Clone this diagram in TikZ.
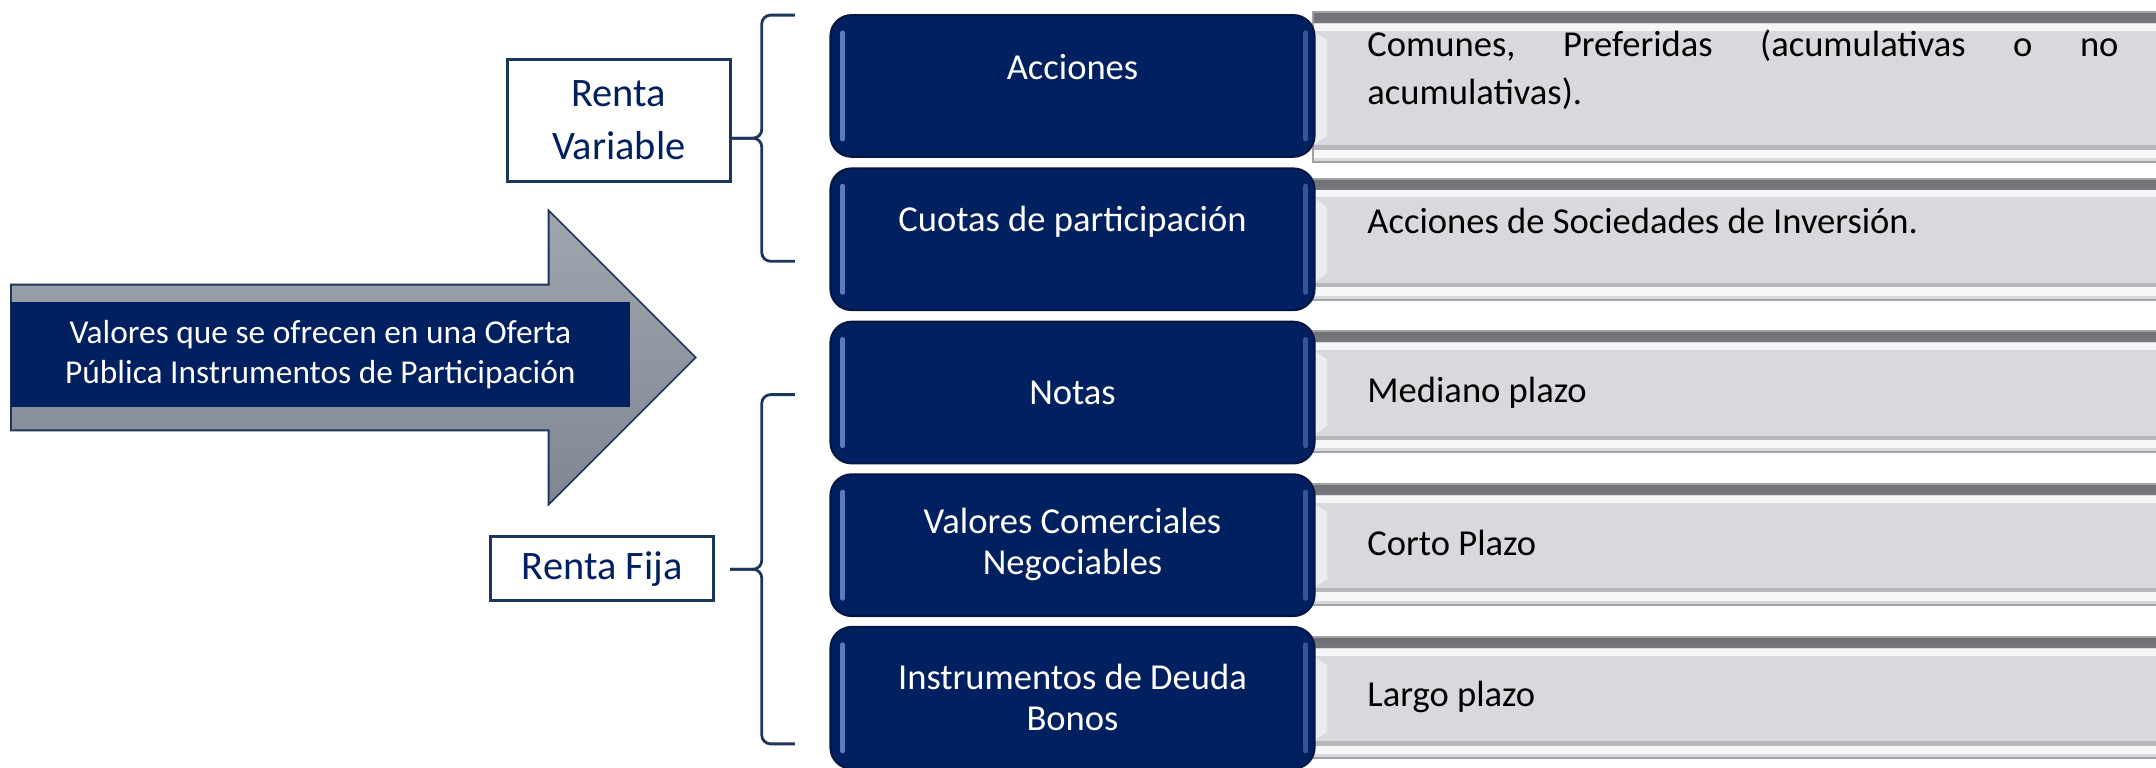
\documentclass[tikz,border=0pt]{standalone}
\usepackage{fontspec}
\setmainfont{Carlito}
\definecolor{azul}{RGB}{0,32,96}
\definecolor{azulosc}{RGB}{6,22,66}
\definecolor{azulbrillo}{RGB}{88,124,192}
\definecolor{marco}{RGB}{28,54,92}
\definecolor{gris}{RGB}{216,217,221}
\definecolor{grisosc}{RGB}{110,112,116}
\definecolor{grisborde}{RGB}{160,162,166}
\definecolor{flechaarr}{RGB}{160,166,175}
\definecolor{flechaab}{RGB}{128,135,147}
\begin{document}
\begin{tikzpicture}
  [x=0.01375cm, y=-0.01375cm,
   caja/.style={draw=marco, line width=0.8pt, fill=white, text=azul, align=center, inner sep=0pt, font=\fontsize{11.5}{15}\selectfont},
   bloque/.style={rounded corners=6pt, fill=azul, draw=azulosc, line width=0.6pt, minimum width=4.84cm, minimum height=1.416cm,
     path picture={
       \draw[azulbrillo, line width=1.3pt, line cap=round] ([xshift=3.5pt,yshift=-5pt]path picture bounding box.north west) -- ([xshift=3.5pt,yshift=5pt]path picture bounding box.south west);
       \draw[azulbrillo!60!azul, line width=1.3pt, line cap=round] ([xshift=-2.5pt,yshift=-5pt]path picture bounding box.north east) -- ([xshift=-2.5pt,yshift=5pt]path picture bounding box.south east);}},
   losa/.style={draw=grisborde, line width=0.6pt, fill=gris, minimum width=8.48cm, minimum height=1.21cm,
     path picture={
       \shade[top color=grisosc, bottom color=gris] (path picture bounding box.north west) rectangle ([yshift=-3pt]path picture bounding box.north east);
       \fill[white!75!gris] ([yshift=-3.3pt]path picture bounding box.north west) rectangle ([yshift=-5.3pt]path picture bounding box.north east);
       \fill[gris!85!black] ([yshift=3.6pt]path picture bounding box.south west) rectangle ([yshift=4.8pt]path picture bounding box.south east);
       \fill[white!80!gris] ([yshift=1.2pt]path picture bounding box.south west) rectangle ([yshift=3.6pt]path picture bounding box.south east);
       \fill[white!50!gris] ([yshift=-5.3pt]path picture bounding box.north west) -- ([xshift=4pt,yshift=-8pt]path picture bounding box.north west) -- ([xshift=4pt,yshift=7.5pt]path picture bounding box.south west) -- ([yshift=4.8pt]path picture bounding box.south west) -- cycle;}},
   blanco/.style={text=white, align=center, inner sep=0pt, font=\fontsize{10.4}{11.7}\selectfont},
   texto/.style={anchor=west, inner sep=0pt, align=left, font=\fontsize{10.4}{13.7}\selectfont},
   llave/.style={draw=marco, line width=0.8pt, rounded corners=2.5pt}]
  \useasboundingbox (0,0) rectangle (1568,558);
  \shadedraw[top color=flechaarr, bottom color=flechaab, draw=marco, line width=0.5pt]
    (8,207) -- (399,207) -- (399,153) -- (506,260) -- (399,367) -- (399,313) -- (8,313) -- cycle;
  \node[fill=azul, text=white, inner sep=0pt, minimum width=6.19cm, minimum height=1.045cm, align=center,
    font=\fontsize{9.5}{11.3}\selectfont] (ofer) at (233,258) {Valores que se ofrecen en una Oferta\\Pública Instrumentos de Participación};
  \node[caja, minimum width=2.2275cm, minimum height=1.224cm] (rv) at (450,87.5) {Renta\\Variable};
  \node[caja, minimum width=2.2275cm, minimum height=0.646cm] (rf) at (438,413.5) {Renta Fija};
  \coordinate (rva) at (578,11);
  \coordinate (rvb) at (578,190);
  \coordinate (rvs) at (554,100.5);
  \coordinate (rvt) at (rv.east |- rvs);
  \coordinate (rfa) at (578,287);
  \coordinate (rfb) at (578,541);
  \coordinate (rfs) at (554,414);
  \coordinate (rft) at (531,414);
  \draw[llave] (rva) -- (rva -| rvs) -- (rvs) -- (rvt);
  \draw[llave] (rvb) -- (rvb -| rvs) -- (rvs) -- (rvt);
  \draw[llave] (rfa) -- (rfa -| rfs) -- (rfs) -- (rft);
  \draw[llave] (rfb) -- (rfb -| rfs) -- (rfs) -- (rft);
  \node[losa, minimum height=1.50cm] (g1) at (1263.5,63.5) {};
  \node[losa] (g2) at (1263.5,174) {};
  \node[losa] (g3) at (1263.5,285) {};
  \node[losa] (g4) at (1263.5,396) {};
  \node[losa] (g5) at (1263.5,507.5) {};
  \node[bloque] (acc) at (780,62.5) {};
  \node[bloque] (cuo) at (780,174) {};
  \node[bloque] (not) at (780,285.5) {};
  \node[bloque] (vcn) at (780,396.5) {};
  \node[bloque] (ide) at (780,507.5) {};
  \node[blanco] (acct) at (780,49) {Acciones};
  \node[blanco] (cuot) at (780,161) {Cuotas de participación};
  \node[blanco] (nott) at (780,286) {Notas};
  \node[blanco] (vcnt) at (780,396) {Valores Comerciales\\Negociables};
  \node[blanco] (idet) at (780,507) {Instrumentos de Deuda\\Bonos};
  \node[texto, text width=7.51cm] (g1t) at (994,50.5) {Comunes,\hfill Preferidas\hfill (acumulativas\hfill o\hfill no\\acumulativas).};
  \node[texto] (g2t) at (994,161) {Acciones de Sociedades de Inversión.};
  \node[texto] (g3t) at (994,286) {Mediano plazo};
  \node[texto] (g4t) at (994,395) {Corto Plazo};
  \node[texto] (g5t) at (994,507) {Largo plazo};
\end{tikzpicture}
\end{document}
